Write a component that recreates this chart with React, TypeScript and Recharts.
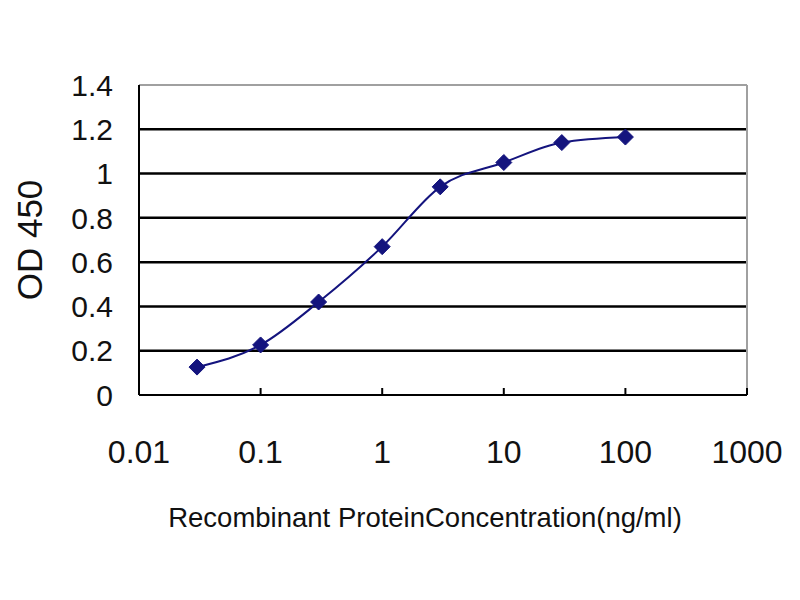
import { LineChart, Line, XAxis, YAxis, ReferenceLine } from "recharts";

// concentration (ng/ml) and OD 450 readings
const concentrations = [0.03, 0.1, 0.3, 1, 3, 10, 30, 100];
const odValues = [0.126, 0.226, 0.42, 0.67, 0.94, 1.05, 1.14, 1.165];

const xTicks = [0.01, 0.1, 1, 10, 100, 1000];
const yTicks = [0, 0.2, 0.4, 0.6, 0.8, 1, 1.2, 1.4];
const gridValues = [0.2, 0.4, 0.6, 0.8, 1, 1.2];

const data = concentrations.map((c, i) => ({ x: c, od: odValues[i] }));

const NAVY = "#14147e";
const X_TICK_MARGIN = 45;

const Diamond = (props: { cx?: number; cy?: number; index?: number }) => {
  const { cx, cy } = props;
  if (cx == null || cy == null) return null;
  const r = 8;
  return (
    <polygon
      key={props.index}
      points={`${cx},${cy - r} ${cx + r},${cy} ${cx},${cy + r} ${cx - r},${cy}`}
      fill={NAVY}
      stroke={NAVY}
    />
  );
};

// x tick: label below plus a short mark pointing up into the plot
const XTick = (props: { x?: number; y?: number; payload?: { value: number } }) => {
  const { x = 0, y = 0, payload } = props;
  const axisY = y - X_TICK_MARGIN;
  return (
    <g>
      <line x1={x} x2={x} y1={axisY} y2={axisY - 7} stroke="#000" strokeWidth={2} />
      <text x={x} y={y} dy="0.71em" textAnchor="middle" fontSize={32} fill="#111">
        {payload ? String(payload.value) : ""}
      </text>
    </g>
  );
};

export default function App() {
  return (
    <div
      style={{
        position: "absolute",
        left: 0,
        top: 0,
        width: 800,
        height: 600,
        background: "#fff",
        fontFamily: '"Liberation Sans", Arial, sans-serif',
      }}
    >
      <LineChart width={800} height={600} data={data} margin={{ top: 85, right: 53, bottom: 55, left: 0 }}>
        <XAxis
          dataKey="x"
          type="number"
          scale="log"
          domain={[0.01, 1000]}
          ticks={xTicks}
          allowDataOverflow
          height={150}
          tickSize={0}
          tickMargin={X_TICK_MARGIN}
          tickLine={false}
          axisLine={{ stroke: "#000", strokeWidth: 2 }}
          tick={<XTick />}
          label={{
            value: "Recombinant ProteinConcentration(ng/ml)",
            position: "insideBottom",
            offset: 18,
            dx: -18,
            fontSize: 27.5,
            fill: "#111",
          }}
        />
        <YAxis
          type="number"
          domain={[0, 1.4]}
          ticks={yTicks}
          width={139}
          tickSize={0}
          tickMargin={26}
          tickLine={false}
          axisLine={{ stroke: "#000", strokeWidth: 2 }}
          tick={{ fontSize: 30, fill: "#111" }}
          label={{
            value: "OD 450",
            angle: -90,
            position: "insideLeft",
            offset: 30,
            fontSize: 35,
            fill: "#111",
            style: { textAnchor: "middle" },
          }}
        />
        {gridValues.map((v) => (
          <ReferenceLine key={v} y={v} stroke="#000" strokeWidth={2.5} />
        ))}
        <ReferenceLine y={1.4} stroke="#a0a0a0" strokeWidth={2} />
        <ReferenceLine x={1000} stroke="#a0a0a0" strokeWidth={2} />
        <Line
          type="monotone"
          dataKey="od"
          stroke={NAVY}
          strokeWidth={2}
          dot={<Diamond />}
          activeDot={false}
          isAnimationActive={false}
        />
      </LineChart>
    </div>
  );
}
